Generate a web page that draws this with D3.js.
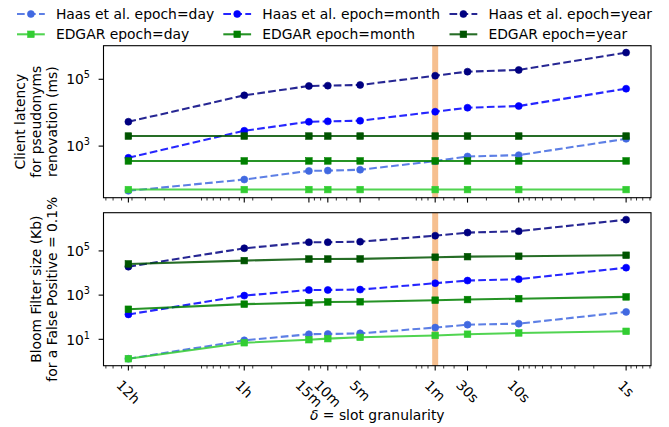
<!DOCTYPE html>
<html><head><meta charset="utf-8">
<script src="https://cdn.jsdelivr.net/npm/d3@7"></script>
<style>body{margin:0;background:#fff} svg{display:block} text{font-family:"DejaVu Sans",sans-serif;fill:#000}</style>
</head><body><svg id="c" width="669" height="427"></svg>
<script>
// ---- data ----
const slotSeconds = [43200, 3600, 900, 600, 300, 60, 30, 10, 1];
const slotLabels = ["12h", "1h", "15m", "10m", "5m", "1m", "30s", "10s", "1s"];
const highlightSeconds = 60;

const haasDayLatency   = [46, 100, 181, 185, 196, 355, 490, 537, 1650];
const haasMonthLatency = [446, 2880, 5360, 5500, 5750, 10700, 14100, 15800, 52200];
const haasYearLatency  = [5360, 33000, 63000, 64500, 67500, 128000, 169000, 190000, 628000];
const edgarDayLatency   = [50, 50, 50, 50, 50, 50, 50, 50, 50];
const edgarMonthLatency = [360, 360, 360, 360, 360, 360, 360, 360, 360];
const edgarYearLatency  = [2000, 2000, 2000, 2000, 2000, 2000, 2000, 2000, 2000];

const haasDayBloom   = [1.32, 9.0, 17, 17.4, 18.6, 34, 46, 51, 174];
const haasMonthBloom = [134, 950, 1710, 1710, 1780, 3460, 4550, 5250, 17500];
const haasYearBloom  = [19400, 132000, 248000, 248000, 262000, 490000, 675000, 780000, 2600000];
const edgarDayBloom   = [1.32, 7.0, 9.6, 10.7, 12.3, 15, 17, 19.4, 23];
const edgarMonthBloom = [229, 390, 457, 490, 500, 590, 630, 690, 830];
const edgarYearBloom  = [25800, 36400, 43000, 43000, 43500, 52000, 55000, 57500, 63800];

const seriesNames = ["Haas et al. epoch=day", "EDGAR epoch=day", "Haas et al. epoch=month",
                     "EDGAR epoch=month", "Haas et al. epoch=year", "EDGAR epoch=year"];
const latencySeries = [haasDayLatency, edgarDayLatency, haasMonthLatency, edgarMonthLatency, haasYearLatency, edgarYearLatency];
const bloomSeries = [haasDayBloom, edgarDayBloom, haasMonthBloom, edgarMonthBloom, haasYearBloom, edgarYearBloom];

const yLabelTop = ["Client latency", "for pseudonyms", "renovation (ms)"];
const yLabelBottom = ["Bloom Filter size (Kb)", "for a False Positive = 0.1%"];

// ---- styles ----
const colors = ["#4169e1", "#32cd32", "#0000ff", "#008000", "#000080", "#005400"];
const isHaas = [true, false, true, false, true, false];
const FS = 13.9;
const LW = 2.08;
const svg = d3.select("#c");

const left = 103.5, right = 651;
function logExtent(arrs) {
  const all = arrs.flat();
  const lo = Math.log10(d3.min(all)), hi = Math.log10(d3.max(all));
  const p = (hi - lo) * 0.05;
  return [Math.pow(10, lo - p), Math.pow(10, hi + p)];
}
const xs = d3.scaleLog().domain(logExtent([slotSeconds]).reverse()).range([left, right]);

const panels = [
  {y0: 45.7, y1: 197.7, data: latencySeries, labels: yLabelTop, tickLabels: false},
  {y0: 212.7, y1: 365.7, data: bloomSeries, labels: yLabelBottom, tickLabels: true}
];

// minor ticks (2..9 x 10^k) inside domain
const xd = xs.domain();
const minorTicks = [];
for (let k = -2; k <= 6; k++) for (let m = 2; m <= 9; m++) {
  const v = m * Math.pow(10, k);
  if (v >= Math.min(...xd) && v <= Math.max(...xd) && !slotSeconds.includes(v)) minorTicks.push(v);
}

function drawMarker(g, shape, x, y, color) {
  if (shape === "circle") {
    g.append("circle").attr("cx", x).attr("cy", y).attr("r", 3.5).attr("fill", color).attr("stroke", color).attr("stroke-width", 0.6);
  } else {
    g.append("rect").attr("x", x - 3.3).attr("y", y - 3.3).attr("width", 6.6).attr("height", 6.6)
      .attr("fill", color).attr("stroke", color).attr("stroke-width", 0.6);
  }
}

panels.forEach(p => {
  const ys = d3.scaleLog().domain(logExtent(p.data)).range([p.y1, p.y0]);
  const g = svg.append("g");
  // highlight band
  g.append("line").attr("x1", xs(highlightSeconds)).attr("x2", xs(highlightSeconds))
    .attr("y1", p.y0).attr("y2", p.y1).attr("stroke", "#f6bf8f").attr("stroke-width", 6);
  // series
  p.data.forEach((vals, si) => {
    const pts = vals.map((v, i) => [xs(slotSeconds[i]), ys(v)]);
    g.append("path").attr("d", d3.line()(pts)).attr("fill", "none")
      .attr("stroke", colors[si]).attr("stroke-width", LW).attr("stroke-opacity", 0.85)
      .attr("stroke-dasharray", isHaas[si] ? "7.7,3.3" : null);
    pts.forEach(pt => drawMarker(g, isHaas[si] ? "circle" : "square", pt[0], pt[1], colors[si]));
  });
  // spines
  g.append("rect").attr("x", left).attr("y", p.y0).attr("width", right - left).attr("height", p.y1 - p.y0)
    .attr("fill", "none").attr("stroke", "#000").attr("stroke-width", 1.1);
  // x ticks
  slotSeconds.forEach(v => g.append("line").attr("x1", xs(v)).attr("x2", xs(v))
    .attr("y1", p.y1).attr("y2", p.y1 + 4.9).attr("stroke", "#000").attr("stroke-width", 1.1));
  minorTicks.forEach(v => g.append("line").attr("x1", xs(v)).attr("x2", xs(v))
    .attr("y1", p.y1).attr("y2", p.y1 + 2.8).attr("stroke", "#000").attr("stroke-width", 0.8));
  // y ticks
  const [lo, hi] = ys.domain().map(Math.log10);
  for (let k = Math.ceil(lo); k <= Math.floor(hi); k++) {
    if (k % 2 === 0) continue;
    const y = ys(Math.pow(10, k));
    g.append("line").attr("x1", left).attr("x2", left - 4.9).attr("y1", y).attr("y2", y)
      .attr("stroke", "#000").attr("stroke-width", 1.1);
    const t = g.append("text").attr("x", 90).attr("y", y + 5.2).attr("text-anchor", "end").style("font-size", FS + "px");
    t.append("tspan").text("10");
    t.append("tspan").attr("dy", -6).style("font-size", "9.7px").text(String(k));
  }
  // x tick labels
  if (p.tickLabels) {
    slotSeconds.forEach((v, i) => {
      const t = g.append("text").attr("text-anchor", "middle").attr("dy", "0.35em")
        .style("font-size", FS + "px").text(slotLabels[i]);
      const w = t.node().getComputedTextLength();
      const cy = 380 + (0.9 * w + 10) / (2 * Math.SQRT2);
      t.attr("transform", `translate(${xs(v)},${cy}) rotate(45)`);
    });
  }
  // y label
  const cy = (p.y0 + p.y1) / 2;
  const base = 56.5, step = 16;
  const n = p.labels.length;
  p.labels.forEach((s, i) => {
    const bx = base - (n - 1 - i) * step;
    svg.append("text").attr("transform", `translate(${bx},${cy}) rotate(-90)`)
      .attr("text-anchor", "middle").style("font-size", FS + "px").text(s);
  });
});

// x label
const xl = svg.append("text").attr("x", (left + right) / 2).attr("y", 420)
  .attr("text-anchor", "middle").style("font-size", FS + "px");
xl.append("tspan").style("font-style", "italic").text("δ");
xl.append("tspan").text(" = slot granularity");

// legend
const legCols = [17, 223.3, 449.5];
const legRows = [14, 34.3];
const legOrder = [[0, 2, 4], [1, 3, 5]];
legOrder.forEach((row, r) => row.forEach((si, c) => {
  const x = legCols[c], y = legRows[r];
  svg.append("line").attr("x1", x).attr("x2", x + 27.8).attr("y1", y).attr("y2", y)
    .attr("stroke", colors[si]).attr("stroke-width", LW).attr("stroke-opacity", 0.85)
    .attr("stroke-dasharray", isHaas[si] ? "7.7,3.3" : null);
  drawMarker(svg, isHaas[si] ? "circle" : "square", x + 13.9, y, colors[si]);
  svg.append("text").attr("x", x + 38.9).attr("y", y + 5).style("font-size", FS + "px").text(seriesNames[si]);
}));
</script></body></html>
